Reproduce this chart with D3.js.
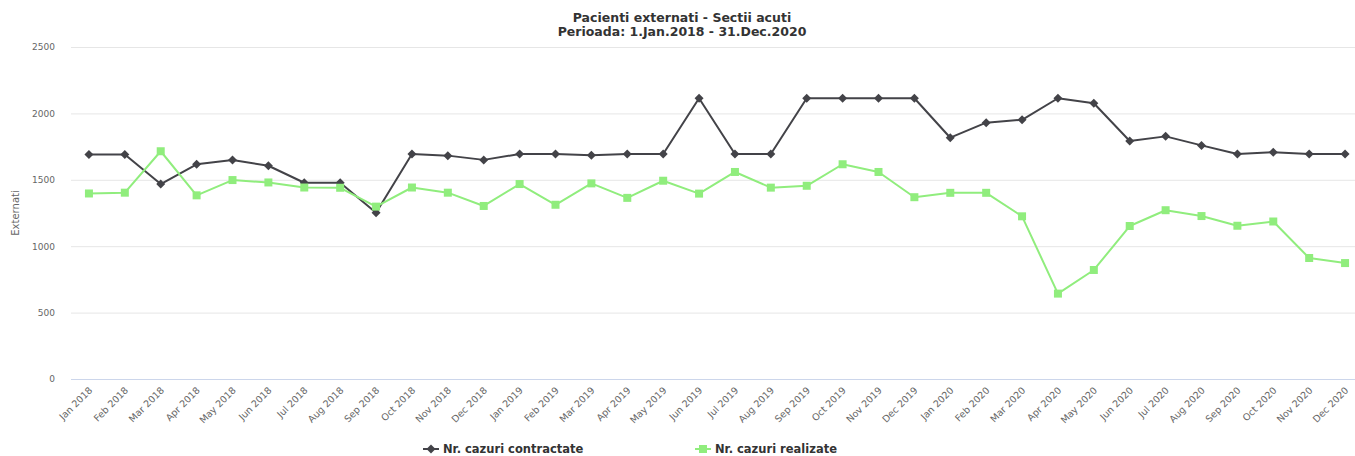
<!DOCTYPE html>
<html>
<head>
<meta charset="utf-8">
<script src="https://cdn.jsdelivr.net/npm/d3@7"></script>
<style>
  html, body { margin: 0; padding: 0; background: #fff; overflow: hidden; }
  svg { display: block; font-family: "DejaVu Sans", sans-serif; }
</style>
</head>
<body>
<svg id="chart" width="1355" height="456"></svg>
<script>
// Monthly categories, Jan 2018 – Dec 2020
const months = [
  "Jan 2018","Feb 2018","Mar 2018","Apr 2018","May 2018","Jun 2018",
  "Jul 2018","Aug 2018","Sep 2018","Oct 2018","Nov 2018","Dec 2018",
  "Jan 2019","Feb 2019","Mar 2019","Apr 2019","May 2019","Jun 2019",
  "Jul 2019","Aug 2019","Sep 2019","Oct 2019","Nov 2019","Dec 2019",
  "Jan 2020","Feb 2020","Mar 2020","Apr 2020","May 2020","Jun 2020",
  "Jul 2020","Aug 2020","Sep 2020","Oct 2020","Nov 2020","Dec 2020"
];

// Contracted cases
const contractate = [
  1690, 1690, 1468, 1617, 1649, 1606, 1478, 1478, 1252, 1694, 1682, 1650,
  1694, 1694, 1684, 1694, 1694, 2114, 1694, 1694, 2114, 2114, 2114, 2114,
  1817, 1930, 1952, 2114, 2076, 1792, 1827, 1759, 1694, 1707, 1694, 1694
];

// Realised cases
const realizate = [
  1397, 1403, 1715, 1383, 1498, 1480, 1442, 1440, 1298, 1442, 1403, 1303,
  1468, 1312, 1473, 1364, 1493, 1396, 1559, 1441, 1455, 1617, 1559, 1369,
  1402, 1402, 1225, 643, 821, 1152, 1271, 1227, 1154, 1186, 911, 873
];

const yTicks = [0, 500, 1000, 1500, 2000, 2500];

const seriesNames = ["Nr. cazuri contractate", "Nr. cazuri realizate"];
const seriesColors = ["#434348", "#90ed7d"];

const svg = d3.select("#chart");

const plot = { left: 71, top: 47, right: 1363, bottom: 379 };

const x = d3.scaleBand()
  .domain(months)
  .range([plot.left, plot.right])
  .padding(0);

const y = d3.scaleLinear()
  .domain([0, 2500])
  .range([plot.bottom, plot.top]);

const cx = m => x(m) + x.bandwidth() / 2;

// Marker shapes: small diamond and square
const diamond = "M0,-4.5L4.5,0L0,4.5L-4.5,0Z";
const square = "M-4,-4H4V4H-4Z";
const markers = [diamond, square];

// Title
const title = svg.append("text")
  .attr("text-anchor", "middle")
  .style("font-size", "12.5px")
  .style("font-weight", "bold")
  .attr("fill", "#333333");
title.append("tspan").attr("x", 682).attr("y", 22).text("Pacienti externati - Sectii acuti");
title.append("tspan").attr("x", 682).attr("y", 36).text("Perioada: 1.Jan.2018 - 31.Dec.2020");

// Horizontal grid + y labels
const yAxis = d3.axisLeft(y).tickValues(yTicks).tickFormat(d3.format("d")).tickSize(0).tickPadding(0);
const gy = svg.append("g").attr("transform", `translate(${plot.left},0)`).call(yAxis);
gy.select(".domain").remove();
gy.selectAll(".tick text")
  .attr("x", -16)
  .attr("dy", "0.32em")
  .attr("fill", "#666666")
  .style("font-size", "9px")
  .style("font-family", "'DejaVu Sans', sans-serif");
gy.selectAll(".tick")
  .filter(d => d !== 0)
  .append("line")
  .attr("x1", 0)
  .attr("x2", plot.right - plot.left)
  .attr("stroke", "#e6e6e6")
  .attr("stroke-width", 1);

// Y axis title
svg.append("text")
  .attr("transform", `translate(19,${(plot.top + plot.bottom) / 2}) rotate(-90)`)
  .attr("text-anchor", "middle")
  .attr("fill", "#666666")
  .style("font-size", "10px")
  .text("Externati");

// X axis
const xAxis = d3.axisBottom(x).tickSize(0).tickPadding(0);
const gx = svg.append("g").attr("transform", `translate(0,${plot.bottom})`).call(xAxis);
gx.select(".domain").attr("stroke", "#ccd6eb").attr("stroke-width", 1)
  .attr("d", `M${plot.left},0.5H${plot.right}`);
gx.selectAll(".tick text")
  .attr("text-anchor", "end")
  .attr("fill", "#666666")
  .style("font-size", "9.5px")
  .style("font-family", "'DejaVu Sans', sans-serif")
  .attr("dy", null)
  .attr("y", 0)
  .attr("transform", "translate(4,12) rotate(-45)");

// Lines and markers
const line = d3.line()
  .x((d, i) => cx(months[i]))
  .y(d => y(d));

const allSeries = [contractate, realizate];

allSeries.forEach((vals, s) => {
  svg.append("path")
    .datum(vals)
    .attr("fill", "none")
    .attr("stroke", seriesColors[s])
    .attr("stroke-width", 2)
    .attr("stroke-linejoin", "round")
    .attr("d", line);
});

allSeries.forEach((vals, s) => {
  svg.append("g").selectAll("path")
    .data(vals)
    .join("path")
    .attr("transform", (d, i) => `translate(${cx(months[i])},${y(d)})`)
    .attr("d", markers[s])
    .attr("fill", seriesColors[s]);
});

// Legend
const legendItems = [
  { x: 423, name: seriesNames[0] },
  { x: 695, name: seriesNames[1] }
];
legendItems.forEach((it, s) => {
  const g = svg.append("g").attr("transform", `translate(${it.x},449)`);
  g.append("line").attr("x1", 0).attr("x2", 16).attr("y1", 0).attr("y2", 0)
    .attr("stroke", seriesColors[s]).attr("stroke-width", 2);
  g.append("path")
    .attr("transform", "translate(8,0)")
    .attr("d", markers[s])
    .attr("fill", seriesColors[s]);
  g.append("text")
    .attr("x", 20)
    .attr("y", 4)
    .attr("fill", "#333333")
    .style("font-size", "11.5px")
    .style("font-weight", "bold")
    .text(it.name);
});
</script>
</body>
</html>
